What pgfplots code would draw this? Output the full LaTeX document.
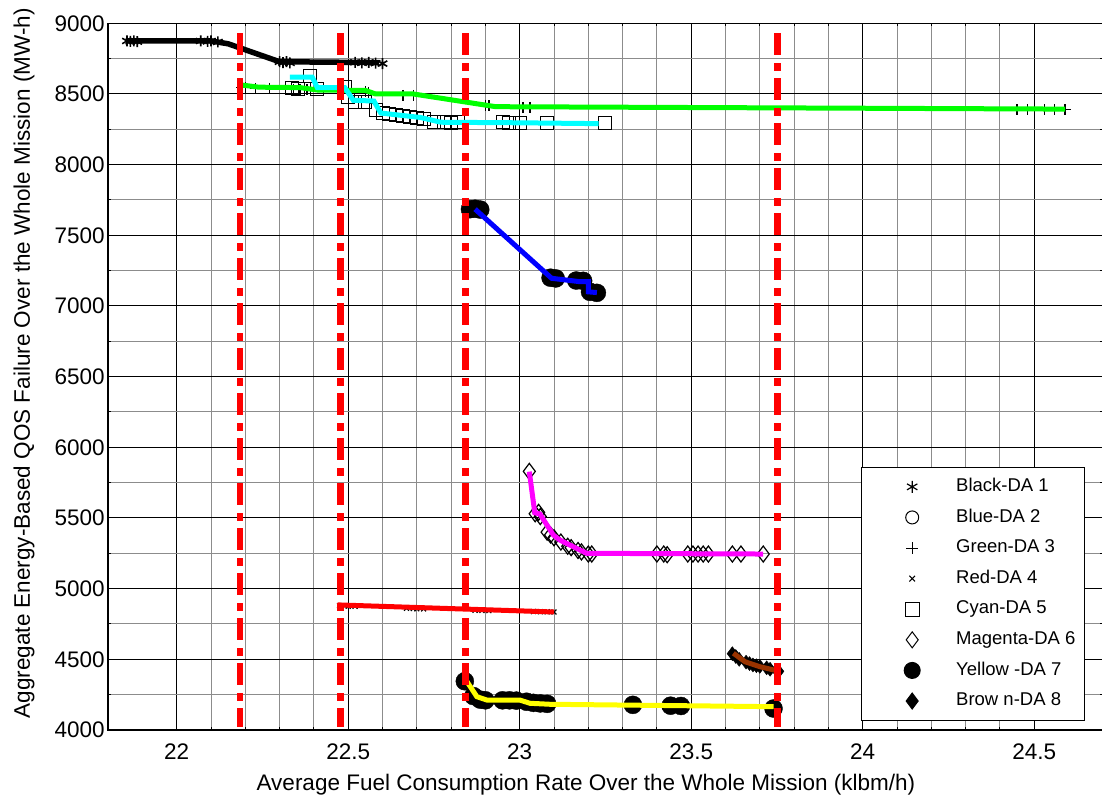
\documentclass[border=0pt]{standalone}
\usepackage{fontspec}
\setmainfont{Liberation Sans}
\usepackage{pgfplots}
\pgfplotsset{compat=1.18}
\definecolor{mbrown}{rgb}{0.6,0.2,0}
\definecolor{mgreen}{rgb}{0,1,0}
\definecolor{mcyan}{rgb}{0,1,1}
\definecolor{mmag}{rgb}{1,0,1}
\definecolor{myellow}{rgb}{1,1,0}
\definecolor{mblue}{rgb}{0,0,1}
\definecolor{mred}{rgb}{1,0,0}
\newcommand\tickfont{\fontsize{22.5bp}{27bp}\selectfont}
\newcommand\legfont{\fontsize{18.5bp}{22bp}\selectfont}
\begin{document}
\begin{tikzpicture}
\begin{axis}[
  at={(0,0)}, anchor=south west,
  scale only axis, width=994.7bp, height=706.7bp,
  xmin=21.8, xmax=24.7, ymin=4000, ymax=9000,
  xtick={22,22.5,...,24.5}, ytick={4000,4500,...,9000},
  minor x tick num=4, minor y tick num=1,
  grid=both,
  major grid style={black, line width=1bp},
  minor grid style={black!45, line width=1bp},
  tick align=inside, major tick length=5bp, minor tick length=3bp,
  axis line style={black, line width=1.2bp},
  tick style={black, line width=1bp},
  tick label style={font=\tickfont},
  /pgf/number format/assume math mode=true,
  /pgf/number format/1000 sep={},
  scaled ticks=false,
  clip marker paths=true,
  xticklabel style={yshift=-10.5bp},
  label style={font=\tickfont},
  xlabel={Average Fuel Consumption Rate Over the Whole Mission (klbm/h)},
  xlabel style={at={(axis description cs:0.4804,0)}, anchor=base, yshift=-60.7bp},
  ylabel={Aggregate Energy-Based QOS Failure Over the Whole Mission (MW-h)},
  ylabel style={at={(axis description cs:-0.07852,0.519)}, anchor=base},
  legend style={at={(axis description cs:0.7566,0.3726)}, anchor=north west,
    draw=black, line width=1bp, fill=white, inner xsep=6bp, inner ysep=11bp,
    row sep=13.3bp, column sep=26bp,
    nodes={font=\legfont, inner xsep=3bp, inner ysep=0bp, text height=13.3bp, text depth=4bp}},
  legend cell align=left,
  legend image code/.code={\path[draw=none,fill=none] (0bp,-1bp) rectangle (60bp,1bp); \draw[#1] plot coordinates {(45bp,0bp)};},
]
\addlegendimage{only marks, mark=asterisk, mark size=6bp, black, line width=1.2bp}
\addlegendentry{Black-DA 1}
\addlegendimage{only marks, mark=o, mark size=6.5bp, black, line width=1bp}
\addlegendentry{Blue-DA 2}
\addlegendimage{only marks, mark=+, mark size=6bp, black, line width=1bp}
\addlegendentry{Green-DA 3}
\addlegendimage{only marks, mark=x, mark size=4bp, black, line width=1bp}
\addlegendentry{Red-DA 4}
\addlegendimage{only marks, mark=square, mark size=7bp, black, line width=1bp}
\addlegendentry{Cyan-DA 5}
\addlegendimage{only marks, mark=diamond, mark size=8bp, black, line width=1bp}
\addlegendentry{Magenta-DA 6}
\addlegendimage{only marks, mark=*, mark size=8bp, black, mark options={fill=black}}
\addlegendentry{Yellow -DA 7}
\addlegendimage{only marks, mark=diamond*, mark size=8bp, black, mark options={fill=black}}
\addlegendentry{Brow n-DA 8}

% ---- Black-DA 1
\addplot[only marks, mark=asterisk, mark size=5.5bp, black, line width=1.6bp, forget plot] coordinates {
(21.855,8875) (21.865,8872) (21.875,8875) (21.885,8870)
(22.07,8875) (22.09,8872) (22.10,8875) (22.12,8868)
(22.30,8728) (22.31,8722) (22.32,8728) (22.33,8720)
(22.52,8724) (22.54,8720) (22.56,8724) (22.58,8718) (22.60,8715)};
\addplot[black, line width=5.5bp, forget plot] coordinates {
(21.855,8875) (22.10,8875) (22.15,8855) (22.30,8728) (22.59,8722)};

% ---- Cyan-DA 5 markers
\addplot[only marks, mark=square, mark size=6.5bp, black, line width=1bp, forget plot] coordinates {
(22.335,8545) (22.355,8535) (22.39,8625) (22.41,8535) (22.49,8550) (22.50,8480)
(22.52,8445) (22.55,8440) (22.58,8390) (22.60,8365) (22.62,8355) (22.64,8350)
(22.66,8345) (22.68,8335) (22.70,8330) (22.72,8320) (22.75,8305) (22.78,8300)
(22.80,8298) (22.82,8300) (22.95,8300) (22.97,8298) (23.00,8295) (23.08,8295) (23.25,8295)};
% ---- Green-DA 3 markers
\addplot[only marks, mark=+, mark size=5.5bp, black, line width=1.4bp, forget plot] coordinates {
(22.19,8545) (22.20,8545) (22.23,8540) (22.27,8540)
(22.34,8535) (22.36,8535) (22.38,8530)
(22.55,8515) (22.56,8512) (22.66,8490) (22.69,8490)
(22.90,8420) (22.91,8418) (23.01,8405) (23.03,8405)
(24.45,8390) (24.48,8390) (24.53,8390) (24.56,8390) (24.59,8390)};
\addplot[mgreen, line width=5bp, forget plot] coordinates {
(22.19,8563) (22.24,8548) (22.36,8545) (22.41,8528) (22.55,8525) (22.58,8500)
(22.69,8500) (22.93,8410) (24.59,8393)};
\addplot[mcyan, line width=5bp, forget plot] coordinates {
(22.33,8620) (22.395,8620) (22.41,8545) (22.49,8545) (22.515,8455) (22.575,8450)
(22.595,8365) (22.71,8334) (22.77,8300) (23.0,8296) (23.23,8290)};

% ---- Blue-DA 2
\addplot[only marks, mark=*, mark size=9bp, black, fill=black, forget plot] coordinates {
(22.855,7685) (22.87,7688) (22.885,7682) (23.09,7200) (23.105,7195)
(23.165,7180) (23.185,7178) (23.205,7100) (23.225,7093)};
\addplot[mblue, line width=5bp, forget plot] coordinates {
(22.87,7685) (23.093,7196) (23.175,7172) (23.2,7172) (23.2,7100) (23.225,7095)};

% ---- Magenta-DA 6
\addplot[only marks, mark=diamond, mark size=8bp, black, line width=1.2bp, forget plot] coordinates {
(23.028,5830) (23.045,5530) (23.055,5540) (23.06,5510) (23.08,5400) (23.09,5380)
(23.10,5360) (23.12,5330) (23.14,5300) (23.15,5290) (23.17,5270) (23.18,5260)
(23.20,5245) (23.21,5245) (23.40,5245) (23.42,5245) (23.43,5240) (23.49,5245)
(23.505,5245) (23.52,5245) (23.535,5245) (23.55,5245) (23.62,5245) (23.645,5245) (23.71,5245)};
\addplot[mmag, line width=5bp, forget plot] coordinates {
(23.028,5828) (23.044,5537) (23.059,5528) (23.098,5380) (23.117,5344) (23.166,5285)
(23.195,5250) (23.71,5245)};

% ---- Red-DA 4
\addplot[only marks, mark=x, mark size=3.5bp, black, line width=1.2bp, forget plot] coordinates {
(22.475,4880) (22.49,4878) (22.50,4876) (22.52,4875)
(22.67,4862) (22.69,4860) (22.70,4858) (22.72,4857)
(22.87,4847) (22.89,4846) (22.91,4845)
(23.04,4838) (23.06,4837) (23.08,4836) (23.10,4835)};
\addplot[mred, line width=5bp, forget plot] coordinates {(22.47,4885) (23.1,4835)};

% ---- Yellow-DA 7
\addplot[only marks, mark=*, mark size=9bp, black, fill=black, forget plot] coordinates {
(22.84,4345) (22.865,4240) (22.885,4215) (22.90,4210) (22.95,4210) (22.97,4210)
(22.99,4208) (23.02,4200) (23.04,4192) (23.06,4188) (23.08,4185) (23.33,4178)
(23.44,4172) (23.47,4170) (23.74,4152)};
\addplot[myellow, line width=5bp, forget plot] coordinates {
(22.84,4366) (22.875,4236) (22.904,4212) (23.0,4212) (23.03,4189) (23.088,4182) (23.74,4165)};

% ---- Brown-DA 8
\addplot[only marks, mark=diamond*, mark size=7bp, black, fill=black, forget plot] coordinates {
(23.62,4540) (23.63,4520) (23.64,4500) (23.66,4480) (23.67,4470) (23.68,4460)
(23.69,4455) (23.70,4450) (23.72,4440) (23.73,4430) (23.75,4420) (23.755,4415)};
\addplot[mbrown, line width=5bp, forget plot] coordinates {
(23.623,4543) (23.657,4483) (23.70,4448) (23.749,4420)};

% ---- red dash-dot separators
\addplot[mred, line width=6.7bp, dash pattern=on 21.7bp off 8.3bp on 7.3bp off 7.7bp, forget plot] coordinates {(22.1845,8929) (22.1845,4023)};
\addplot[mred, line width=6.7bp, dash pattern=on 21.7bp off 8.3bp on 7.3bp off 7.7bp, forget plot] coordinates {(22.477,8929) (22.477,4023)};
\addplot[mred, line width=6.7bp, dash pattern=on 21.7bp off 8.3bp on 7.3bp off 7.7bp, forget plot] coordinates {(22.8415,8929) (22.8415,4023)};
\addplot[mred, line width=6.7bp, dash pattern=on 21.7bp off 8.3bp on 7.3bp off 7.7bp, forget plot] coordinates {(23.7515,8929) (23.7515,4023)};
\end{axis}
\pgfresetboundingbox
\path (-108.1bp,-67bp) rectangle (993.9bp,730bp);
\end{tikzpicture}
\end{document}
